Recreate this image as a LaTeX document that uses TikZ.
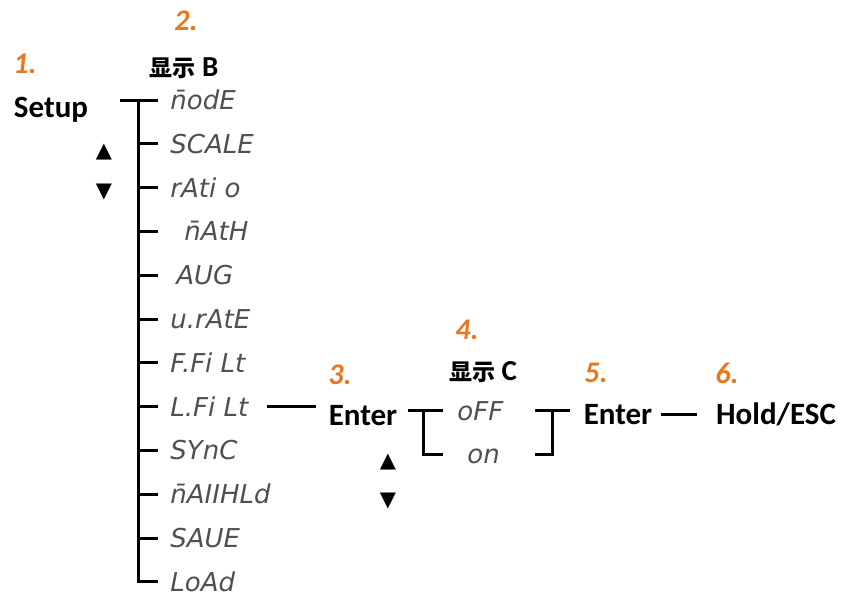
\documentclass[tikz,border=0pt]{standalone}
\usepackage{fontspec}
\setmainfont{Carlito}
\newfontfamily\segfont{DejaVu Sans}
\newfontfamily\cjkfont{Noto Sans CJK SC}
\usetikzlibrary{positioning}
\definecolor{steporange}{HTML}{E87722}
\definecolor{seggray}{HTML}{505050}
\newcommand\zh[1]{{\cjkfont\fontsize{11.5}{13}\selectfont #1}}

\begin{document}
\begin{tikzpicture}[x=0.5pt,y=-0.5pt]
\tikzstyle{key}=[font=\fontsize{15.5}{18}\selectfont\bfseries, inner sep=2pt, text depth=0pt]
\tikzstyle{num}=[font=\fontsize{15}{18}\selectfont\bfseries\itshape, text=steporange, inner sep=0pt]
\tikzstyle{disp}=[font=\fontsize{14.5}{17}\selectfont\bfseries, inner sep=1pt, text depth=0pt]
\tikzstyle{seg}=[font=\segfont\fontsize{13}{15}\selectfont\itshape, text=seggray, anchor=west, inner xsep=6pt, text height=9.5pt, text depth=0pt]
\tikzstyle{tri}=[font=\segfont\fontsize{10.5}{12}\selectfont, inner sep=0pt]
\tikzstyle{wire}=[line width=1.5pt]
\useasboundingbox (0,0) rectangle (842,601);
% column 1
\node[num] (n1) at (25,64) {1.};
\node[key] (setup) at (51,107) {Setup};
\node[tri] (tu1) at (104,152) {▲};
\node[tri] (td1) at (104,192) {▼};
% column 2
\node[num] (n2) at (186,21) {2.};
\node[disp] (dispB) at (184,67) {\zh{显示} B};
\foreach \txt [count=\i] in {{\={n}odE}, SCALE, {rAti o}, {\hspace*{7pt}\={n}AtH}, {\hspace*{3pt}AUG}, u.rAtE, {F.Fi Lt}, {L.Fi Lt}, SYnC, {\={n}AIIHLd}, SAUE, LoAd}
  \node[seg] (m\i) at (158,{100+(\i-1)*43.8}) {\txt};
\coordinate (sp) at (138,100);
\coordinate (spl) at (120,100);
\draw[wire] (spl) -- (m1.west);
\draw[wire] (sp) |- (m12.west);
\foreach \i in {2,...,11}
  \draw[wire] (m\i.west -| sp) -- (m\i.west);
% column 3
\node[num] (n3) at (340,375) {3.};
\node[key] (en1) at (363,415) {Enter};
\node[tri] (tu2) at (388,462) {▲};
\node[tri] (td2) at (388,501) {▼};
\draw[wire, shorten <=3pt, shorten >=4pt] (m8.east) -- (m8.east -| en1.west);
% column 4
\node[num] (n4) at (467,330) {4.};
\node[disp] (dispC) at (483,371) {\zh{显示} C};
\node[seg, inner xsep=7pt] (off) at (443,411) {oFF};
\node[seg, inner xsep=12pt] (on) at (443,454) {on};
\coordinate (lbr) at (423,410);
\draw[wire, shorten <=3pt] (en1.east |- lbr) -- (off.west |- lbr);
\draw[wire] (lbr) |- (on.west);
\coordinate (rtop) at (535,410);
\coordinate (rbot) at (535,454);
\coordinate (rmid) at (552,410);
% column 5 and 6
\node[num] (n5) at (596,373) {5.};
\node[key] (en2) at (618,414) {Enter};
\node[num] (n6) at (727,373) {6.};
\node[key] (hold) at (776,414) {Hold/ESC};
\draw[wire, shorten >=4.5pt] (rtop) -- (en2.west |- rtop);
\draw[wire] (rbot) -| (rmid);
\draw[wire, shorten <=2pt, shorten >=7.5pt] (en2.east) -- (hold.west);
\end{tikzpicture}
\end{document}
